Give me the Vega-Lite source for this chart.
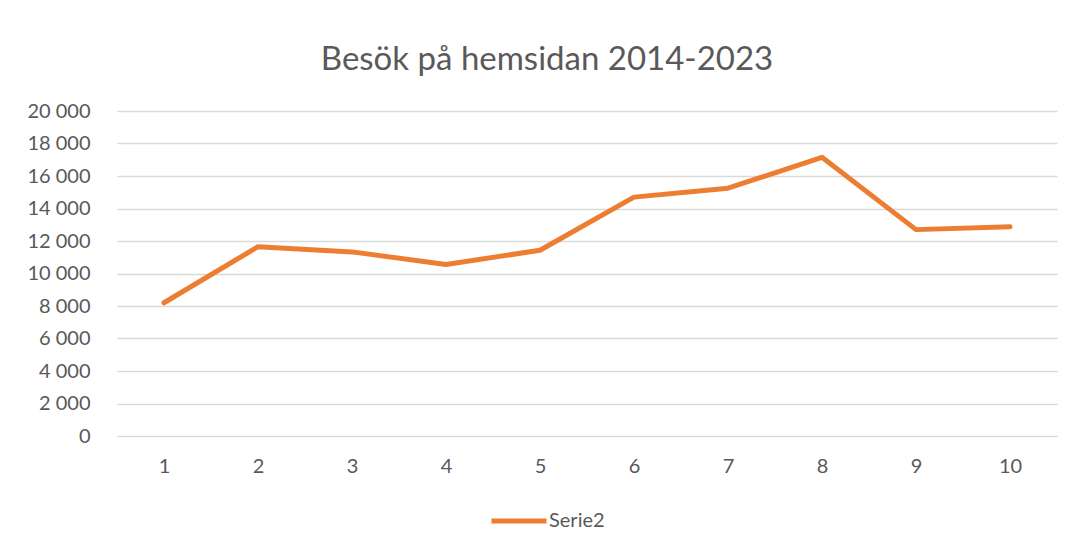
{
  "$schema": "https://vega.github.io/schema/vega-lite/v6.json",
  "width": 940,
  "height": 325,
  "autosize": {"type": "none"},
  "padding": {"left": 117, "top": 111, "right": 17, "bottom": 113},
  "background": "white",
  "title": {
    "text": "Besök på hemsidan 2014-2023",
    "font": "Lato",
    "fontSize": 33,
    "fontWeight": "normal",
    "color": "#595959",
    "anchor": "middle",
    "dx": -40,
    "offset": 24
  },
  "data": {
    "values": [
      {"x": 1, "value": 8200, "series": "Serie2"},
      {"x": 2, "value": 11650, "series": "Serie2"},
      {"x": 3, "value": 11330, "series": "Serie2"},
      {"x": 4, "value": 10550, "series": "Serie2"},
      {"x": 5, "value": 11430, "series": "Serie2"},
      {"x": 6, "value": 14700, "series": "Serie2"},
      {"x": 7, "value": 15250, "series": "Serie2"},
      {"x": 8, "value": 17150, "series": "Serie2"},
      {"x": 9, "value": 12700, "series": "Serie2"},
      {"x": 10, "value": 12870, "series": "Serie2"}
    ]
  },
  "mark": {"type": "line", "strokeWidth": 5, "strokeCap": "round", "strokeJoin": "round"},
  "encoding": {
    "x": {
      "field": "x",
      "type": "ordinal",
      "sort": null,
      "scale": {"type": "point", "padding": 0.5},
      "axis": {
        "title": null,
        "labelAngle": 0,
        "labelFont": "Lato",
        "labelFontSize": 20,
        "labelColor": "#595959",
        "labelPadding": 20,
        "domain": false,
        "ticks": false,
        "grid": false
      }
    },
    "y": {
      "field": "value",
      "type": "quantitative",
      "scale": {"domain": [0, 20000], "nice": false},
      "axis": {
        "title": null,
        "values": [0, 2000, 4000, 6000, 8000, 10000, 12000, 14000, 16000, 18000, 20000],
        "labelExpr": "replace(format(datum.value, ','), ',', ' ')",
        "labelFont": "Lato",
        "labelFontSize": 20,
        "labelColor": "#595959",
        "labelPadding": 27,
        "domain": false,
        "ticks": false,
        "grid": true,
        "gridColor": "#d9d9d9",
        "gridWidth": 1.3
      }
    },
    "color": {
      "field": "series",
      "type": "nominal",
      "scale": {"range": ["#ED7D31"]},
      "legend": {
        "title": null,
        "orient": "none",
        "legendX": 372,
        "legendY": 380,
        "symbolType": "stroke",
        "symbolSize": 3025,
        "symbolStrokeWidth": 5,
        "labelFont": "Lato",
        "labelFontSize": 20,
        "labelColor": "#595959",
        "labelOffset": 0
      }
    }
  },
  "config": {
    "view": {"stroke": null}
  }
}
